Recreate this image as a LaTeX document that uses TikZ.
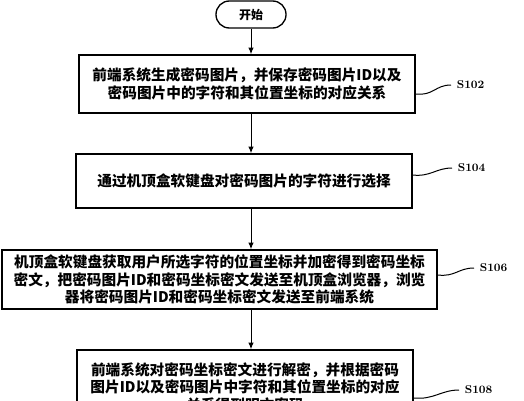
\documentclass[tikz,border=0pt]{standalone}
\usepackage{fontspec}
\newfontfamily\cjk{Noto Sans CJK SC}
\usetikzlibrary{arrows.meta,calc}
\tikzset{every picture/.style={line width=0.75pt}}
\tikzset{
  stepbox/.style={draw, line width=1pt, inner sep=0pt, align=center, font=\cjk\bfseries\fontsize{11}{13.2}\selectfont},
  termbox/.style={draw, line width=1pt, rounded corners=10pt, minimum width=52.5pt, minimum height=20.25pt, inner sep=0pt, font=\cjk\bfseries\fontsize{9}{10}\selectfont},
  steplabel/.style={anchor=west, inner sep=4pt, font=\bfseries\fontsize{8.5}{10}\selectfont},
  flowarrow/.style={-{Latex[length=5pt,width=4pt]}},
}

\begin{document}
\begin{tikzpicture}[x=0.75pt,y=0.75pt,yscale=-1,xscale=1]
\useasboundingbox (0,0) rectangle (524,400);
\node [termbox] (start) at (251,14.5) {开始};
\node [stepbox, minimum width=252pt, minimum height=43.5pt] (s102) at (247,84) {前端系统生成密码图片，并保存密码图片ID以及\\密码图片中的字符和其位置坐标的对应关系};
\node [stepbox, minimum width=252pt, minimum height=40.5pt] (s104) at (244,181) {通过机顶盒软键盘对密码图片的字符进行选择};
\node [stepbox, minimum width=326.25pt, minimum height=44.25pt] (s106) at (219.5,279.5) {机顶盒软键盘获取用户所选字符的位置坐标并加密得到密码坐标\\密文，把密码图片ID和密码坐标密文发送至机顶盒浏览器，浏览\\器将密码图片ID和密码坐标密文发送至前端系统};
\node [stepbox, minimum width=252pt, minimum height=55.5pt] (s108) at (245,387) {前端系统对密码坐标密文进行解密，并根据密码\\图片ID以及密码图片中字符和其位置坐标的对应\\关系得到明文密码};

\draw [flowarrow] (start) -- (s102.north -| start);
\draw [flowarrow] (s102.south -| start) -- (s104.north -| start);
\draw [flowarrow] (s104.south -| start) -- (s106.north -| start);
\draw [flowarrow] (s106.south -| start) -- (s108.north -| start);

\node [steplabel] (l102) at (451,85) {S102};
\node [steplabel] (l104) at (452,168) {S104};
\node [steplabel] (l106) at (474,268) {S106};
\node [steplabel] (l108) at (459,390) {S108};
\draw ($(s102.east)+(0,10)$) .. controls +(18,2) and +(-16,0) .. (l102.west);
\draw ($(s104.east)+(0,-6)$) .. controls +(18,2) and +(-16,0) .. (l104.west);
\draw ($(s106.east)+(0,-4.5)$) .. controls +(18,2) and +(-16,0) .. (l106.west);
\draw ($(s108.east)+(0,11)$) .. controls +(20,2) and +(-18,0) .. (l108.west);
\end{tikzpicture}
\end{document}
